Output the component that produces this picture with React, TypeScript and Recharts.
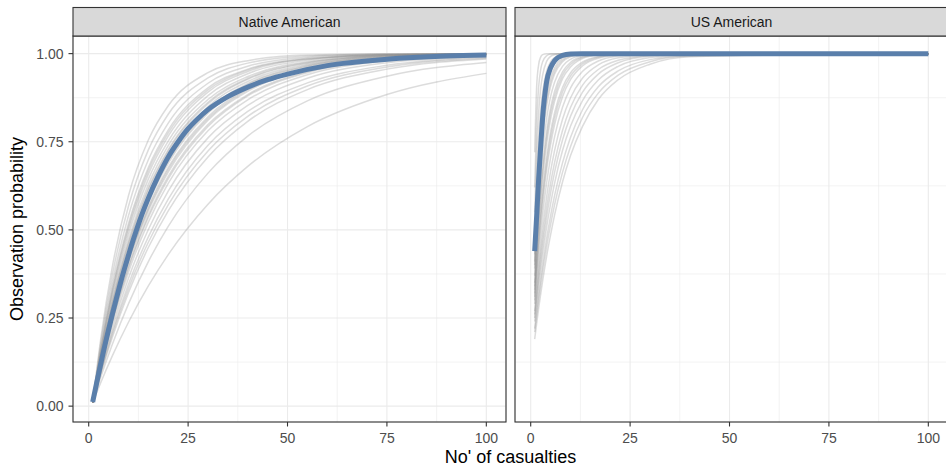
import React from 'react';
import { LineChart, Line, XAxis, YAxis, CartesianGrid, ReferenceLine } from 'recharts';

const FONT = '"Liberation Sans", Arial, Helvetica, sans-serif';

// ---- axes / labels ----
const panelTitles = ['Native American', 'US American'];
const xTitle = "No' of casualties";
const yTitle = 'Observation probability';
const xTicks = [0, 25, 50, 75, 100];
const xMinor = [12.5, 37.5, 62.5, 87.5];
const yTicks = [0, 0.25, 0.5, 0.75, 1];
const yMinor = [0.125, 0.375, 0.625, 0.875];
const xDomain: [number, number] = [-3.95, 104.95];
const yDomain: [number, number] = [-0.045, 1.05];

// ---- Native American: posterior draws (gray) ----
const nativeX = [1, 3, 6, 10, 15, 20, 30, 40, 55, 75, 100];
const nativeDraws = [
  [0.01, 0.066, 0.144, 0.238, 0.341, 0.430, 0.573, 0.680, 0.793, 0.884, 0.944],
  [0.01, 0.081, 0.177, 0.290, 0.410, 0.510, 0.661, 0.766, 0.866, 0.936, 0.975],
  [0.01, 0.090, 0.197, 0.322, 0.450, 0.554, 0.707, 0.808, 0.898, 0.956, 0.985],
  [0.01, 0.093, 0.206, 0.334, 0.465, 0.571, 0.724, 0.822, 0.908, 0.962, 0.987],
  [0.01, 0.097, 0.213, 0.346, 0.480, 0.587, 0.740, 0.836, 0.917, 0.967, 0.990],
  [0.01, 0.102, 0.225, 0.363, 0.501, 0.610, 0.761, 0.853, 0.930, 0.974, 0.992],
  [0.01, 0.108, 0.237, 0.380, 0.522, 0.632, 0.781, 0.869, 0.940, 0.979, 0.994],
  [0.01, 0.111, 0.244, 0.391, 0.535, 0.645, 0.793, 0.880, 0.946, 0.982, 0.995],
  [0.01, 0.113, 0.248, 0.396, 0.542, 0.652, 0.799, 0.884, 0.949, 0.983, 0.996],
  [0.01, 0.117, 0.256, 0.407, 0.554, 0.664, 0.811, 0.893, 0.954, 0.985, 0.997],
  [0.01, 0.118, 0.259, 0.413, 0.560, 0.671, 0.816, 0.897, 0.957, 0.986, 0.997],
  [0.01, 0.120, 0.262, 0.418, 0.566, 0.677, 0.821, 0.901, 0.959, 0.987, 0.997],
  [0.01, 0.124, 0.270, 0.428, 0.578, 0.689, 0.831, 0.908, 0.963, 0.989, 0.998],
  [0.01, 0.125, 0.274, 0.433, 0.584, 0.695, 0.836, 0.912, 0.965, 0.990, 0.998],
  [0.01, 0.127, 0.277, 0.439, 0.590, 0.701, 0.841, 0.915, 0.967, 0.991, 0.998],
  [0.01, 0.131, 0.284, 0.449, 0.601, 0.712, 0.850, 0.921, 0.970, 0.992, 0.998],
  [0.01, 0.134, 0.292, 0.458, 0.613, 0.723, 0.858, 0.927, 0.973, 0.993, 0.999],
  [0.01, 0.136, 0.295, 0.463, 0.618, 0.728, 0.862, 0.930, 0.975, 0.994, 0.999],
  [0.01, 0.140, 0.302, 0.472, 0.629, 0.739, 0.870, 0.935, 0.977, 0.994, 0.999],
  [0.01, 0.145, 0.313, 0.487, 0.644, 0.752, 0.881, 0.943, 0.981, 0.996, 0.999],
  [0.01, 0.150, 0.323, 0.500, 0.658, 0.766, 0.891, 0.949, 0.984, 0.996, 1.0],
  [0.01, 0.153, 0.330, 0.509, 0.668, 0.775, 0.897, 0.953, 0.985, 0.997, 1.0],
  [0.01, 0.157, 0.337, 0.518, 0.677, 0.783, 0.903, 0.956, 0.987, 0.997, 1.0],
  [0.01, 0.165, 0.353, 0.540, 0.699, 0.803, 0.916, 0.964, 0.990, 0.998, 1.0],
  [0.01, 0.176, 0.375, 0.567, 0.727, 0.828, 0.931, 0.973, 0.993, 0.999, 1.0],
  [0.01, 0.189, 0.399, 0.597, 0.755, 0.852, 0.946, 0.980, 0.996, 0.999, 1.0],
];
// ---- Native American: mean curve (blue) ----
const nativeMeanX = [1, 2, 3, 4, 5, 6, 7, 8, 9, 10, 11, 12, 13, 15, 17.5, 20, 22.5, 25, 27.5, 30, 35, 40, 45, 50, 60, 75, 90, 100];
const nativeMean = [0.012, 0.066, 0.118, 0.169, 0.217, 0.263, 0.307, 0.350, 0.390, 0.428, 0.465, 0.499, 0.532, 0.590, 0.653, 0.707, 0.750, 0.787, 0.816, 0.841, 0.878, 0.905, 0.926, 0.942, 0.966, 0.984, 0.993, 0.996];

// ---- US American: posterior draws (gray) ----
const usX = [1, 1.5, 2, 2.5, 3, 4, 5, 6, 8, 10, 13, 17, 22, 30, 40, 100];
const usDraws = [
  [0.72, 0.907, 0.969, 0.990, 0.997, 1, 1, 1, 1, 1, 1, 1, 1, 1, 1, 1],
  [0.62, 0.811, 0.906, 0.954, 0.977, 0.994, 0.999, 1, 1, 1, 1, 1, 1, 1, 1, 1],
  [0.55, 0.727, 0.834, 0.900, 0.939, 0.978, 0.992, 0.997, 1, 1, 1, 1, 1, 1, 1, 1],
  [0.48, 0.648, 0.762, 0.839, 0.891, 0.950, 0.977, 0.989, 0.998, 1, 1, 1, 1, 1, 1, 1],
  [0.44, 0.593, 0.705, 0.786, 0.844, 0.918, 0.957, 0.977, 0.994, 0.998, 1, 1, 1, 1, 1, 1],
  [0.43, 0.578, 0.687, 0.768, 0.828, 0.906, 0.948, 0.972, 0.991, 0.997, 1, 1, 1, 1, 1, 1],
  [0.41, 0.550, 0.656, 0.737, 0.799, 0.883, 0.932, 0.960, 0.987, 0.995, 0.999, 1, 1, 1, 1, 1],
  [0.40, 0.533, 0.636, 0.717, 0.779, 0.866, 0.919, 0.951, 0.982, 0.993, 0.998, 1, 1, 1, 1, 1],
  [0.39, 0.518, 0.619, 0.699, 0.762, 0.851, 0.907, 0.942, 0.977, 0.991, 0.998, 1, 1, 1, 1, 1],
  [0.37, 0.487, 0.582, 0.659, 0.723, 0.816, 0.878, 0.919, 0.964, 0.984, 0.995, 0.999, 1, 1, 1, 1],
  [0.35, 0.457, 0.546, 0.621, 0.683, 0.779, 0.846, 0.893, 0.948, 0.975, 0.991, 0.998, 1, 1, 1, 1],
  [0.34, 0.443, 0.530, 0.604, 0.666, 0.762, 0.831, 0.879, 0.939, 0.969, 0.989, 0.997, 0.999, 1, 1, 1],
  [0.33, 0.429, 0.514, 0.585, 0.647, 0.743, 0.814, 0.865, 0.929, 0.962, 0.986, 0.996, 0.999, 1, 1, 1],
  [0.32, 0.409, 0.486, 0.553, 0.612, 0.706, 0.778, 0.832, 0.904, 0.945, 0.976, 0.992, 0.998, 1, 1, 1],
  [0.31, 0.396, 0.471, 0.536, 0.594, 0.688, 0.761, 0.817, 0.892, 0.936, 0.971, 0.990, 0.997, 1, 1, 1],
  [0.30, 0.383, 0.455, 0.519, 0.575, 0.670, 0.742, 0.799, 0.878, 0.926, 0.965, 0.987, 0.996, 1, 1, 1],
  [0.29, 0.364, 0.430, 0.489, 0.543, 0.633, 0.705, 0.764, 0.848, 0.902, 0.949, 0.979, 0.993, 0.999, 1, 1],
  [0.27, 0.338, 0.399, 0.455, 0.506, 0.593, 0.666, 0.725, 0.814, 0.874, 0.930, 0.968, 0.988, 0.997, 1, 1],
  [0.26, 0.322, 0.379, 0.431, 0.478, 0.562, 0.632, 0.691, 0.782, 0.847, 0.910, 0.955, 0.981, 0.995, 0.999, 1],
  [0.25, 0.308, 0.361, 0.410, 0.455, 0.536, 0.605, 0.663, 0.755, 0.822, 0.890, 0.942, 0.974, 0.993, 0.999, 1],
  [0.24, 0.293, 0.343, 0.388, 0.431, 0.508, 0.574, 0.632, 0.725, 0.794, 0.866, 0.925, 0.964, 0.989, 0.997, 1],
  [0.22, 0.270, 0.317, 0.360, 0.401, 0.475, 0.540, 0.597, 0.690, 0.762, 0.840, 0.906, 0.951, 0.983, 0.995, 1],
  [0.21, 0.257, 0.301, 0.342, 0.381, 0.452, 0.515, 0.571, 0.663, 0.736, 0.818, 0.888, 0.939, 0.977, 0.993, 1],
  [0.19, 0.235, 0.277, 0.317, 0.355, 0.425, 0.486, 0.542, 0.636, 0.710, 0.793, 0.870, 0.926, 0.970, 0.991, 1],
];
// ---- US American: mean curve (blue) ----
const usMeanX = [1, 1.5, 2, 2.5, 3, 4, 5, 6, 8, 10, 13, 20, 40, 100];
const usMean = [0.44, 0.54, 0.645, 0.735, 0.82, 0.92, 0.96, 0.98, 0.995, 0.999, 1, 1, 1, 1];

const GRAY = '#8c8c8c';
const BLUE = '#5a7fab';
const GRID = '#EBEBEB';

function rows(xs: number[], ys: number[]) {
  return xs.map((x, i) => ({ x, y: ys[i] }));
}

type PanelProps = {
  width: number;
  marginLeft: number;
  marginRight: number;
  showY: boolean;
  xs: number[];
  draws: number[][];
  meanX: number[];
  mean: number[];
};

function Panel({ width, marginLeft, marginRight, showY, xs, draws, meanX, mean }: PanelProps) {
  const tickStyle = { fill: '#4D4D4D', fontSize: 14, fontFamily: FONT };
  return (
    <LineChart
      width={width}
      height={468}
      margin={{ top: 36, right: marginRight, bottom: 16, left: marginLeft }}
    >
      <CartesianGrid stroke={GRID} strokeWidth={1.1} />
      {xMinor.map((v) => (
        <ReferenceLine key={'mx' + v} x={v} stroke={GRID} strokeWidth={0.6} />
      ))}
      {yMinor.map((v) => (
        <ReferenceLine key={'my' + v} y={v} stroke={GRID} strokeWidth={0.6} />
      ))}
      <XAxis
        type="number"
        dataKey="x"
        domain={xDomain}
        allowDataOverflow
        ticks={xTicks}
        interval={0}
        height={30}
        tickSize={4.5}
        tickMargin={6.5}
        axisLine={false}
        tickLine={{ stroke: '#333333', strokeWidth: 1.1 }}
        tick={tickStyle}
      />
      <YAxis
        type="number"
        domain={yDomain}
        allowDataOverflow
        ticks={yTicks}
        interval={0}
        width={showY ? 73 : 0}
        tickSize={showY ? 4.5 : 0}
        tickMargin={5}
        axisLine={false}
        tickLine={showY ? { stroke: '#333333', strokeWidth: 1.1 } : false}
        tick={showY ? tickStyle : false}
        tickFormatter={(v: number) => v.toFixed(2)}
      />
      {draws.map((ys, i) => (
        <Line
          key={'d' + i}
          data={rows(xs, ys)}
          dataKey="y"
          type="monotone"
          stroke={GRAY}
          strokeOpacity={0.3}
          strokeWidth={1.5}
          dot={false}
          activeDot={false}
          isAnimationActive={false}
        />
      ))}
      <Line
        data={rows(meanX, mean)}
        dataKey="y"
        type="monotone"
        stroke={BLUE}
        strokeWidth={5}
        dot={false}
        activeDot={false}
        isAnimationActive={false}
      />
    </LineChart>
  );
}

export default function App() {
  return (
    <div
      style={{
        position: 'absolute',
        left: 0,
        top: 0,
        width: 946,
        height: 468,
        overflow: 'hidden',
        background: '#ffffff',
        fontFamily: FONT,
      }}
    >
      <div style={{ position: 'absolute', left: 0, top: 0 }}>
        <Panel
          width={510}
          marginLeft={0}
          marginRight={4}
          showY
          xs={nativeX}
          draws={nativeDraws}
          meanX={nativeMeanX}
          mean={nativeMean}
        />
      </div>
      <div style={{ position: 'absolute', left: 510, top: 0 }}>
        <Panel
          width={438}
          marginLeft={5}
          marginRight={0}
          showY={false}
          xs={usX}
          draws={usDraws}
          meanX={usMeanX}
          mean={usMean}
        />
      </div>
      <svg
        width={946}
        height={468}
        style={{ position: 'absolute', left: 0, top: 0, pointerEvents: 'none' }}
      >
        <rect x={73} y={36} width={433} height={386} fill="none" stroke="#333333" strokeWidth={1.1} />
        <rect x={515} y={36} width={433} height={386} fill="none" stroke="#333333" strokeWidth={1.1} />
        <rect x={73} y={7.5} width={433} height={28.5} fill="#D9D9D9" stroke="#333333" strokeWidth={1.1} />
        <rect x={515} y={7.5} width={433} height={28.5} fill="#D9D9D9" stroke="#333333" strokeWidth={1.1} />
        <text x={289.5} y={22} textAnchor="middle" dominantBaseline="central" fontSize={14} fill="#1A1A1A" fontFamily={FONT}>
          {panelTitles[0]}
        </text>
        <text x={731.5} y={22} textAnchor="middle" dominantBaseline="central" fontSize={14} fill="#1A1A1A" fontFamily={FONT}>
          {panelTitles[1]}
        </text>
        <text
          x={17}
          y={229}
          transform="rotate(-90, 17, 229)"
          textAnchor="middle"
          dominantBaseline="central"
          fontSize={18}
          fill="#000000"
          fontFamily={FONT}
        >
          {yTitle}
        </text>
        <text x={510.5} y={463} textAnchor="middle" fontSize={18} fill="#000000" fontFamily={FONT}>
          {xTitle}
        </text>
      </svg>
    </div>
  );
}
